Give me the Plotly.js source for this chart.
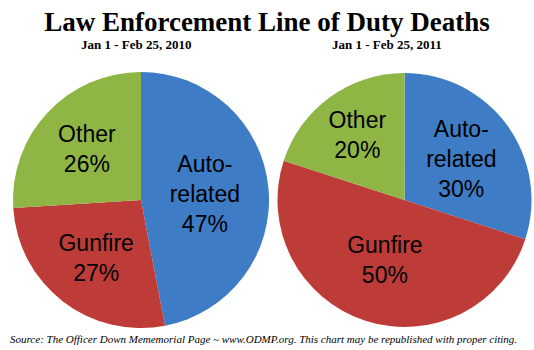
<!DOCTYPE html>
<html>
<head>
<meta charset="utf-8">
<script src="https://cdn.plot.ly/plotly-3.0.1.min.js"></script>
<style>html,body{margin:0;padding:0;background:#fff;}#chart{width:534px;height:350px;}</style>
</head>
<body>
<div id="chart"></div>
<script>
const categories = ["Auto-related", "Gunfire", "Other"];
const labelText = ["Auto-<br>related", "Gunfire", "Other"];
const values2010 = [47, 27, 26];
const values2011 = [30, 50, 20];
const colors = ["#3f7cc6", "#bd3c38", "#8fb545"];
const titleText = "Law Enforcement Line of Duty Deaths";
const sub2010 = "Jan 1 - Feb 25, 2010";
const sub2011 = "Jan 1 - Feb 25, 2011";
const footer = "Source: The Officer Down Mememorial Page ~ www.ODMP.org. This chart may be republished with proper citing.";

function makeText(vals){ return vals.map((v,i)=> labelText[i] + "<br>" + v + "%"); }

function pie(vals, dom){
  return {
    type: "pie", labels: categories, values: vals, text: makeText(vals),
    textinfo: "text", hoverinfo: "label+percent", sort: false, direction: "clockwise", rotation: 0,
    marker: {colors: colors, line: {width: 0}},
    textposition: "inside", insidetextorientation: "horizontal",
    textfont: {family: "Liberation Sans, Arial, sans-serif", size: 23, color: "#000"},
    domain: dom, showlegend: false
  };
}

const data = [
  pie(values2010, {x: [13/534, 269/534], y: [22/350, 278/350]}),
  pie(values2011, {x: [277/534, 532/534], y: [23/350, 277/350]})
];

const layout = {
  width: 534, height: 350,
  margin: {l: 0, r: 0, t: 0, b: 0},
  paper_bgcolor: "#fff",
  title: {text: "<b>" + titleText + "</b>", x: 0.5, xanchor: "center", y: 1 - 22/350, yanchor: "middle",
    font: {family: "Liberation Serif, Times New Roman, serif", size: 27, color: "#000"}},
  annotations: [
    {text: "<b>" + sub2010 + "</b>", xref: "paper", yref: "paper", x: 136/534, y: 1 - 45/350, showarrow: false,
      xanchor: "center", yanchor: "middle", font: {family: "Liberation Serif, serif", size: 13, color: "#000"}},
    {text: "<b>" + sub2011 + "</b>", xref: "paper", yref: "paper", x: 387/534, y: 1 - 45/350, showarrow: false,
      xanchor: "center", yanchor: "middle", font: {family: "Liberation Serif, serif", size: 13, color: "#000"}},
    {text: "<i>" + footer + "</i>", xref: "paper", yref: "paper", x: 263/534, y: 1 - 339/350, showarrow: false,
      xanchor: "center", yanchor: "middle", font: {family: "Liberation Serif, serif", size: 11, color: "#000"}}
  ]
};

Plotly.newPlot("chart", data, layout, {displayModeBar: false, staticPlot: true});
</script>
</body>
</html>
